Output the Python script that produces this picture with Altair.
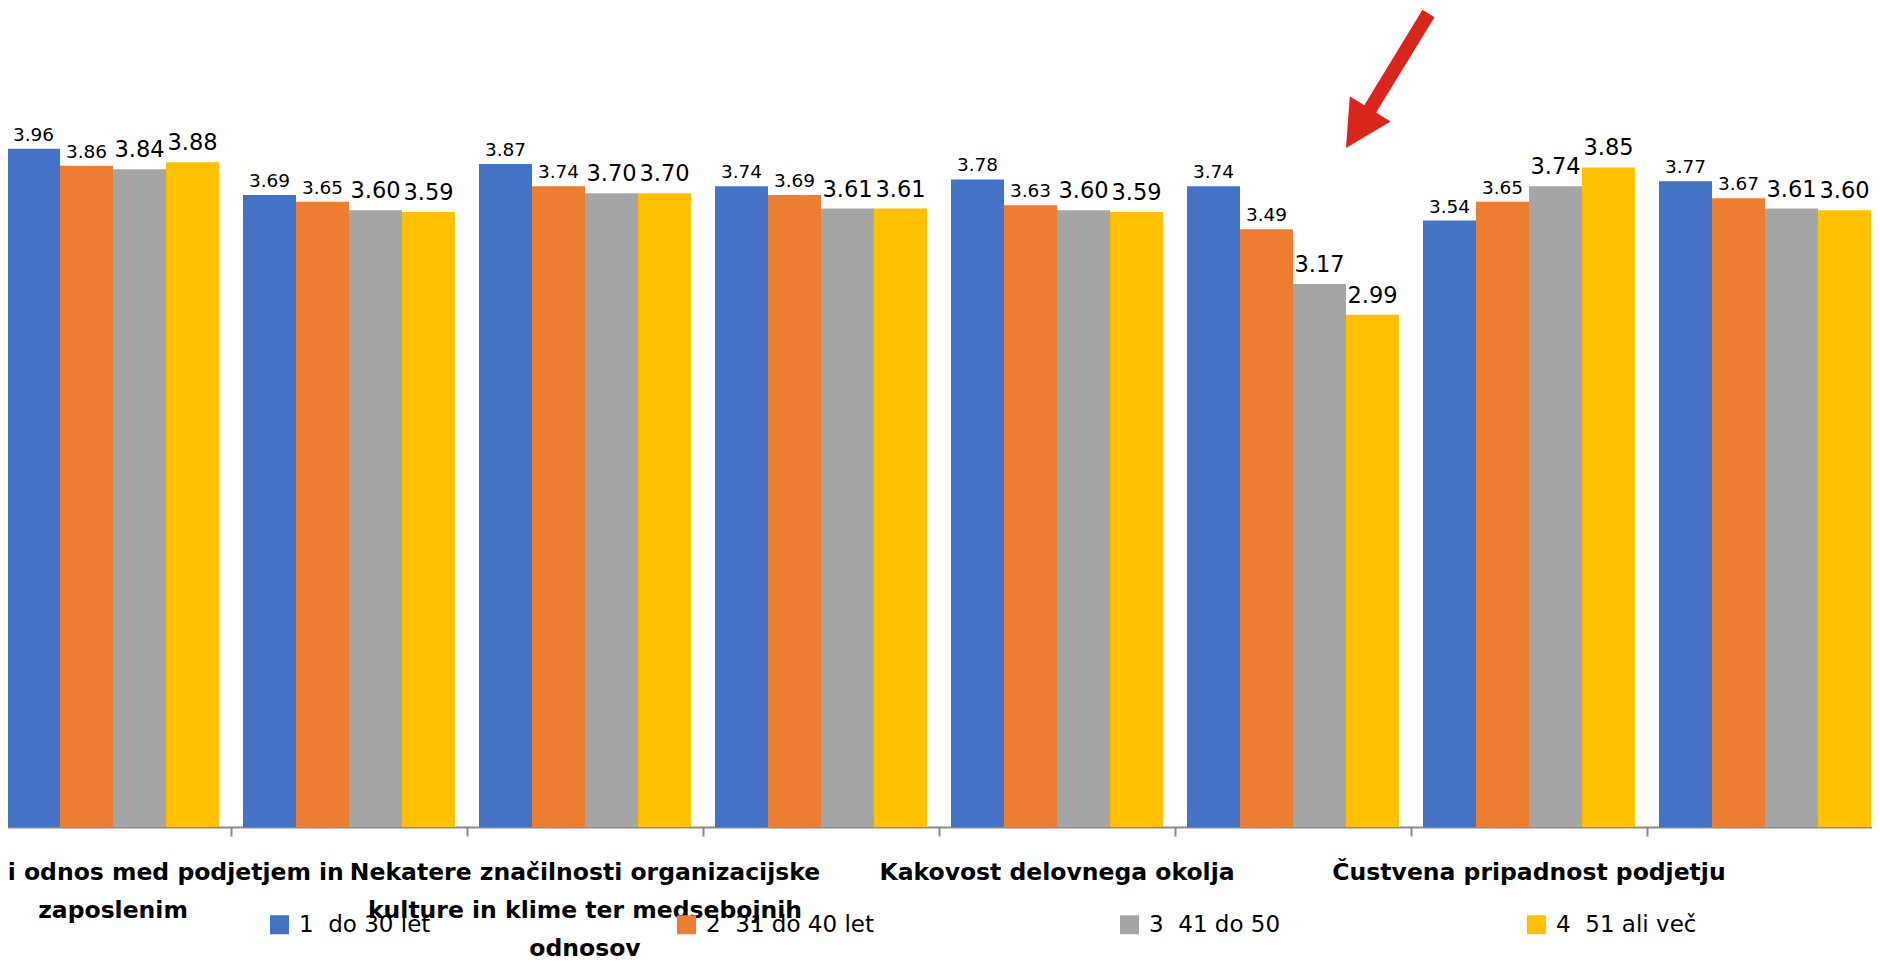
import altair as alt
import pandas as pd

# ---- data ----
categories = [
    "Psihološki odnos med podjetjem in zaposlenim",
    "(skrita oznaka 2)",
    "Nekatere značilnosti organizacijske kulture in klime ter medsebojnih odnosov",
    "(skrita oznaka 4)",
    "Kakovost delovnega okolja",
    "(skrita oznaka 6)",
    "Čustvena pripadnost podjetju",
    "(skrita oznaka 8)",
]
shown_labels = [
    "Psihološki odnos med podjetjem in|zaposlenim",
    "",
    "Nekatere značilnosti organizacijske|kulture in klime ter medsebojnih|odnosov",
    "",
    "Kakovost delovnega okolja",
    "",
    "Čustvena pripadnost podjetju",
    "",
]
series = ["1\u00a0 do 30 let", "2\u00a0 31 do 40 let", "3\u00a0 41 do 50", "4\u00a0 51 ali več"]
s1 = [3.96, 3.69, 3.87, 3.74, 3.78, 3.74, 3.54, 3.77]
s2 = [3.86, 3.65, 3.74, 3.69, 3.63, 3.49, 3.65, 3.67]
s3 = [3.84, 3.60, 3.70, 3.61, 3.60, 3.17, 3.74, 3.61]
s4 = [3.88, 3.59, 3.70, 3.61, 3.59, 2.99, 3.85, 3.60]
colors = ["#4472C4", "#ED7D31", "#A5A5A5", "#FFC000"]

rows = []
for si, vals in enumerate([s1, s2, s3, s4]):
    for ci, v in enumerate(vals):
        rows.append({"cat": categories[ci], "series": series[si], "value": v,
                     "label": f"{v:.2f}", "big": si >= 2})
df = pd.DataFrame(rows)
labels_df = pd.DataFrame({"cat": categories, "lab": shown_labels})

FONT = "DejaVu Sans"
AXIS_GRAY = "#898989"

x_enc = alt.X(
    "cat:N", sort=categories,
    scale=alt.Scale(paddingInner=0, paddingOuter=0),
    axis=alt.Axis(labels=False, title=None, grid=False, domainColor=AXIS_GRAY,
                  domainWidth=2, tickColor=AXIS_GRAY, tickWidth=2, tickSize=9,
                  bandPosition=0),
)
xo_enc = alt.XOffset("series:N", sort=series,
                     scale=alt.Scale(paddingInner=0, paddingOuter=0.2264))
y_enc = alt.Y("value:Q", scale=alt.Scale(domain=[0, 4.781], nice=False, zero=True), axis=None)

bars = alt.Chart(df).mark_bar(strokeWidth=0).encode(
    x=x_enc, xOffset=xo_enc, y=y_enc,
    color=alt.Color(
        "series:N", sort=series, title=None,
        scale=alt.Scale(domain=series, range=colors),
        legend=alt.Legend(orient="none", legendX=273, legendY=905, direction="horizontal",
                          symbolType="square", symbolSize=361, symbolStrokeWidth=0,
                          labelFont=FONT, labelFontSize=23, labelColor="#000000",
                          labelOffset=8, columnPadding=244, padding=0, labelLimit=0),
    ),
)

small_txt = alt.Chart(df).transform_filter("!datum.big").mark_text(
    font=FONT, fontSize=18.5, color="#000000", baseline="alphabetic", dy=-8
).encode(x=alt.X("cat:N", sort=categories), xOffset=alt.XOffset("series:N", sort=series),
         y=alt.Y("value:Q"), text="label:N")

big_txt = alt.Chart(df).transform_filter("datum.big").mark_text(
    font=FONT, fontSize=22.5, color="#000000", baseline="alphabetic", dy=-12
).encode(x=alt.X("cat:N", sort=categories), xOffset=alt.XOffset("series:N", sort=series),
         y=alt.Y("value:Q"), text="label:N")

cat_txt = alt.Chart(labels_df).mark_text(
    font=FONT, fontWeight="bold", fontSize=23.5, color="#000000", lineBreak="|",
    lineHeight=38, baseline="alphabetic", align="center"
).encode(x=alt.X("cat:N", sort=categories), y=alt.value(872), text="lab:N")

arrow_path = ("M32.5,-70.2 L44.5,-62.8 L-13.8,32.6 L0.6,41.5 L-44,68 "
              "L-40.2,16.3 L-25.7,25.2 Z")
arrow = alt.Chart(pd.DataFrame({"a": [1]})).mark_point(
    shape=arrow_path, size=4, filled=True, fill="#DA251D", strokeWidth=0, opacity=1
).encode(x=alt.value(1395), y=alt.value(72))

chart = alt.layer(bars, small_txt, big_txt, cat_txt, arrow).properties(
    width=1888, height=819,
    autosize=alt.AutoSizeParams(type="none"),
    padding={"left": -13, "top": 0, "right": -11, "bottom": 136},
    background="#FFFFFF",
).configure_view(strokeWidth=0)

chart.save("out.html", embed_options={"renderer": "svg", "actions": False})
